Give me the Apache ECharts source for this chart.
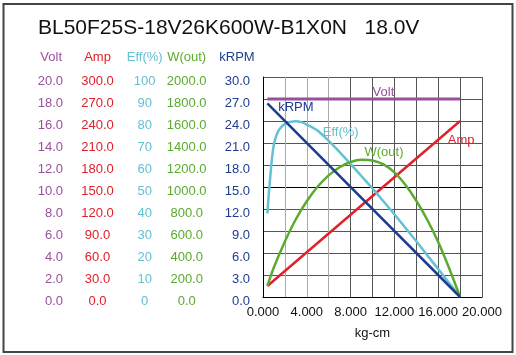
<!DOCTYPE html>
<html>
<head>
<meta charset="utf-8">
<script src="https://cdn.jsdelivr.net/npm/echarts@6/dist/echarts.min.js"></script>
<style>html,body{margin:0;padding:0;background:#fff;}#c{width:516px;height:355px;}</style>
</head>
<body>
<div id="c"></div>
<script>
// ---- Data ----
const chartTitle = 'BL50F25S-18V26K600W-B1X0N   18.0V';
const xTickLabels = ['0.000','','4.000','','8.000','','12.000','','16.000','','20.000'];
const voltTicks = ['0.0','2.0','4.0','6.0','8.0','10.0','12.0','14.0','16.0','18.0','20.0'];
const ampTicks  = ['0.0','30.0','60.0','90.0','120.0','150.0','180.0','210.0','240.0','270.0','300.0'];
const effTicks  = ['0','10','20','30','40','50','60','70','80','90','100'];
const woutTicks = ['0.0','200.0','400.0','600.0','800.0','1000.0','1200.0','1400.0','1600.0','1800.0','2000.0'];
const krpmTicks = ['0.0','3.0','6.0','9.0','12.0','15.0','18.0','21.0','24.0','27.0','30.0'];

const voltTorque = [0.4, 18.0];
const voltValues = [18.0, 18.0];
const ampTorque = [0.4, 18.0];
const ampValues = [15.0, 240.0];
const krpmTorque = [0.4, 18.0];
const krpmValues = [26.4, 0.0];
const effTorque = [0.4, 0.5, 0.6, 0.8, 1.0, 1.25, 1.5, 2.0, 2.5, 3.0, 3.5, 4, 5, 6, 7, 8, 9, 10, 11, 12, 13, 14, 15, 16, 17, 18];
const effValues = [38, 45, 51, 62, 69.5, 73.8, 76.3, 78.7, 79.6, 79.9, 79.5, 78.4, 75.6, 71.0, 65.9, 60.4, 54.9, 49.3, 43.5, 37.6, 31.5, 25.3, 19.0, 12.7, 6.4, 0];
const woutTorque = [0.4, 1, 2, 3, 4, 5, 6, 7, 8, 9, 10, 11, 12, 13, 14, 15, 16, 17, 18];
const woutValues = [102, 270, 505, 707, 870, 1004, 1106, 1180, 1227, 1247, 1241, 1205, 1133, 1020, 875, 702, 500, 262, 0];

// ---- Styling ----
const FONT = "'Liberation Sans', Arial, sans-serif";
const C = { volt: '#9a4f9d', amp: '#e0202a', eff: '#63c1d3', wout: '#5aab2e', krpm: '#1f3d8f' };
const pairs = (xs, ys) => xs.map((x, i) => [x, ys[i]]);
const idx = (v, step) => Math.round(v / step);

function labelAxis(offset, max, step, ticks, name, color, align, nameStyle) {
  return {
    type: 'value', position: 'left', offset: offset, min: 0, max: max, interval: step,
    name: name, nameLocation: 'end', nameGap: 13,
    nameTextStyle: Object.assign({ color: color, fontSize: 13, fontFamily: FONT }, nameStyle),
    axisLine: { show: false }, axisTick: { show: false }, splitLine: { show: false },
    axisLabel: { color: color, fontSize: 13, fontFamily: FONT, margin: 0, align: align,
      verticalAlign: 'top', padding: [-2, 0, 0, 0], showMinLabel: true, showMaxLabel: true,
      hideOverlap: false, formatter: v => ticks[idx(v, step)] }
  };
}

const hColors = ['#555','#555','#555','#555','#555','#000','#555','#555','#555','#555','#555'];
const vColors = ['#555','#aaa','#aaa','#aaa','#555','#555','#555','#555','#555','#555','#555'];

function markLabel(text, coord, color) {
  return {
    symbol: 'circle', symbolSize: 0, silent: true, animation: false,
    label: { show: true, position: 'inside', formatter: text, color: color, fontSize: 13, fontFamily: FONT },
    data: [{ coord: coord }]
  };
}

const chart = echarts.init(document.getElementById('c'), null, { renderer: 'canvas' });
chart.setOption({
  animation: false,
  backgroundColor: '#fff',
  title: { text: chartTitle, left: 33, top: 13,
    textStyle: { color: '#111', fontSize: 21, fontWeight: 'normal', fontFamily: FONT } },
  graphic: [{ type: 'rect', shape: { x: 3.5, y: 4, width: 509, height: 348 },
    style: { fill: 'none', stroke: '#444', lineWidth: 2 }, silent: true }],
  grid: { left: 263, right: 34, top: 77, bottom: 58, containLabel: false },
  xAxis: {
    type: 'value', min: 0, max: 20, interval: 2,
    name: 'kg-cm', nameLocation: 'middle', nameGap: 30,
    nameTextStyle: { color: '#111', fontSize: 13, fontFamily: FONT },
    axisLine: { show: true, lineStyle: { color: '#000', width: 1 } },
    axisTick: { show: false },
    splitLine: { show: true, lineStyle: { color: vColors, width: 1 } },
    axisLabel: { color: '#111', fontSize: 13, fontFamily: FONT, margin: 9,
      showMinLabel: true, showMaxLabel: true, hideOverlap: false,
      formatter: v => xTickLabels[idx(v, 2)] }
  },
  yAxis: [
    { type: 'value', position: 'left', offset: 0, min: 0, max: 30, interval: 3,
      axisLine: { show: true, lineStyle: { color: '#000', width: 1 } },
      axisTick: { show: false }, axisLabel: { show: false },
      splitLine: { show: true, lineStyle: { color: hColors, width: 1 } } },
    labelAxis(200, 20, 2, voltTicks, 'Volt', C.volt, 'right', { align: 'right', padding: [0, 1, 0, 0] }),
    labelAxis(165.5, 300, 30, ampTicks, 'Amp', C.amp, 'center', { align: 'center' }),
    labelAxis(118.3, 100, 10, effTicks, 'Eff(%)', C.eff, 'center', { align: 'center' }),
    labelAxis(76.3, 2000, 200, woutTicks, 'W(out)', C.wout, 'center', { align: 'center' }),
    labelAxis(13, 30, 3, krpmTicks, 'kRPM', C.krpm, 'right', { align: 'center', padding: [0, 26, 0, 0] })
  ],
  series: [
    { name: 'Volt', type: 'line', yAxisIndex: 1, data: pairs(voltTorque, voltValues), showSymbol: false,
      lineStyle: { color: C.volt, width: 3 }, markPoint: markLabel('Volt', [11.0, 18.6], C.volt) },
    { name: 'Amp', type: 'line', yAxisIndex: 2, data: pairs(ampTorque, ampValues), showSymbol: false,
      lineStyle: { color: C.amp, width: 2.5 }, markPoint: markLabel('Amp', [18.1, 214], C.amp) },
    { name: 'Eff', type: 'line', yAxisIndex: 3, data: pairs(effTorque, effValues), showSymbol: false,
      smooth: 0.25,
      lineStyle: { color: C.eff, width: 2.5 }, markPoint: markLabel('Eff(%)', [7.1, 75], C.eff) },
    { name: 'Wout', type: 'line', yAxisIndex: 4, data: pairs(woutTorque, woutValues), showSymbol: false,
      smooth: 0.3,
      lineStyle: { color: C.wout, width: 2.5 }, markPoint: markLabel('W(out)', [11.05, 1312], C.wout) },
    { name: 'kRPM', type: 'line', yAxisIndex: 5, data: pairs(krpmTorque, krpmValues), showSymbol: false,
      lineStyle: { color: C.krpm, width: 2.5 }, markPoint: markLabel('kRPM', [3.0, 25.9], C.krpm) }
  ]
});
</script>
</body>
</html>
